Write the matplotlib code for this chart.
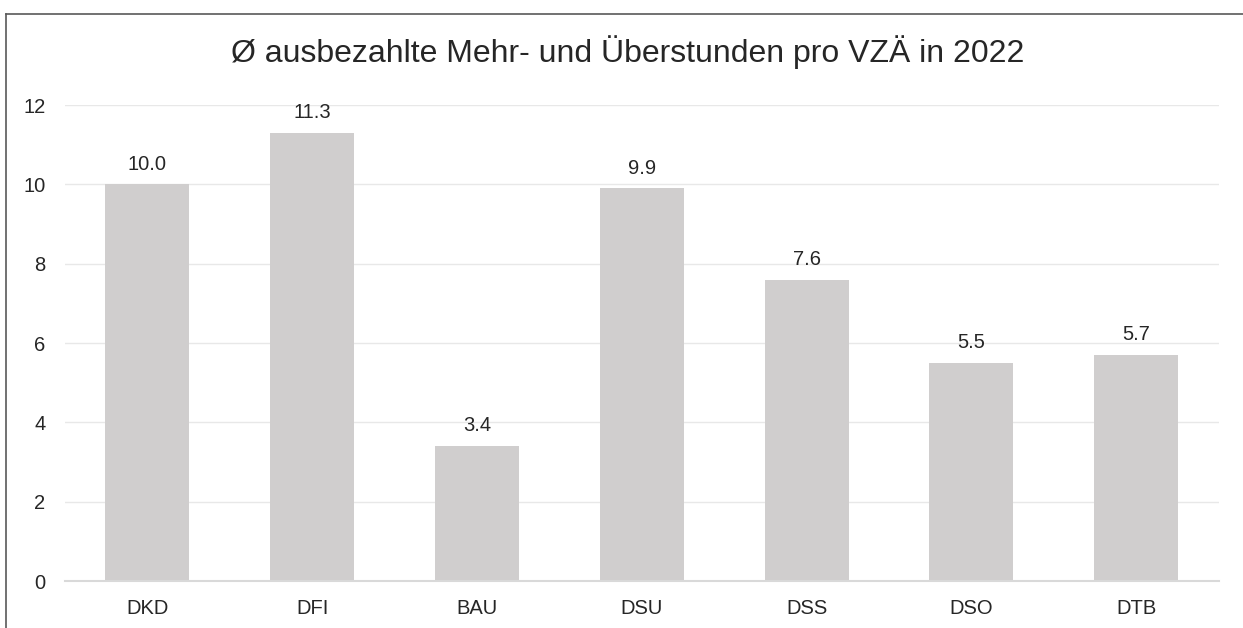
import matplotlib.pyplot as plt
from matplotlib.lines import Line2D

plt.rcParams['font.family'] = ['Liberation Sans', 'DejaVu Sans']

categories = ["DKD", "DFI", "BAU", "DSU", "DSS", "DSO", "DTB"]
values = [10.0, 11.3, 3.4, 9.9, 7.6, 5.5, 5.7]
labels = ["10.0", "11.3", "3.4", "9.9", "7.6", "5.5", "5.7"]

fig = plt.figure(figsize=(12.43, 6.28), dpi=100)
ax = fig.add_axes([0.0523, 0.0748, 0.928, 0.758])

x = range(len(categories))
bars = ax.bar(x, values, width=0.51, color="#D0CECE", zorder=2)
for b, lab in zip(bars, labels):
    ax.text(b.get_x() + b.get_width() / 2, b.get_height() + 0.27, lab,
            ha="center", va="bottom", fontsize=14.5, color="#262626")

ax.set_xlim(-0.5, len(categories) - 0.5)
ax.set_ylim(0, 12)
ax.set_yticks(range(0, 13, 2))
ax.set_xticks(list(x))
ax.set_xticklabels(categories)
ax.tick_params(axis="both", length=0, labelsize=14.5, labelcolor="#262626")
ax.tick_params(axis="y", pad=14)
ax.tick_params(axis="x", pad=13)
ax.grid(axis="y", color="#E8E8E8", linewidth=1, zorder=0)
for s in ["top", "right", "left"]:
    ax.spines[s].set_visible(False)
ax.spines["bottom"].set_color("#D9D9D9")
ax.spines["bottom"].set_linewidth(1.5)
ax.spines["bottom"].set_zorder(3)

fig.text(0.505, 0.917, "Ø ausbezahlte Mehr- und Überstunden pro VZÄ in 2022",
         ha="center", va="center", fontsize=23, color="#262626")

# frame around chart (left and top edges visible)
fig.add_artist(Line2D([0.005, 0.005], [0.0, 0.978], color="#595959", linewidth=1.2,
                      transform=fig.transFigure))
fig.add_artist(Line2D([0.005, 1.0], [0.978, 0.978], color="#595959", linewidth=1.2,
                      transform=fig.transFigure))

fig.savefig("out.png", dpi=100)
